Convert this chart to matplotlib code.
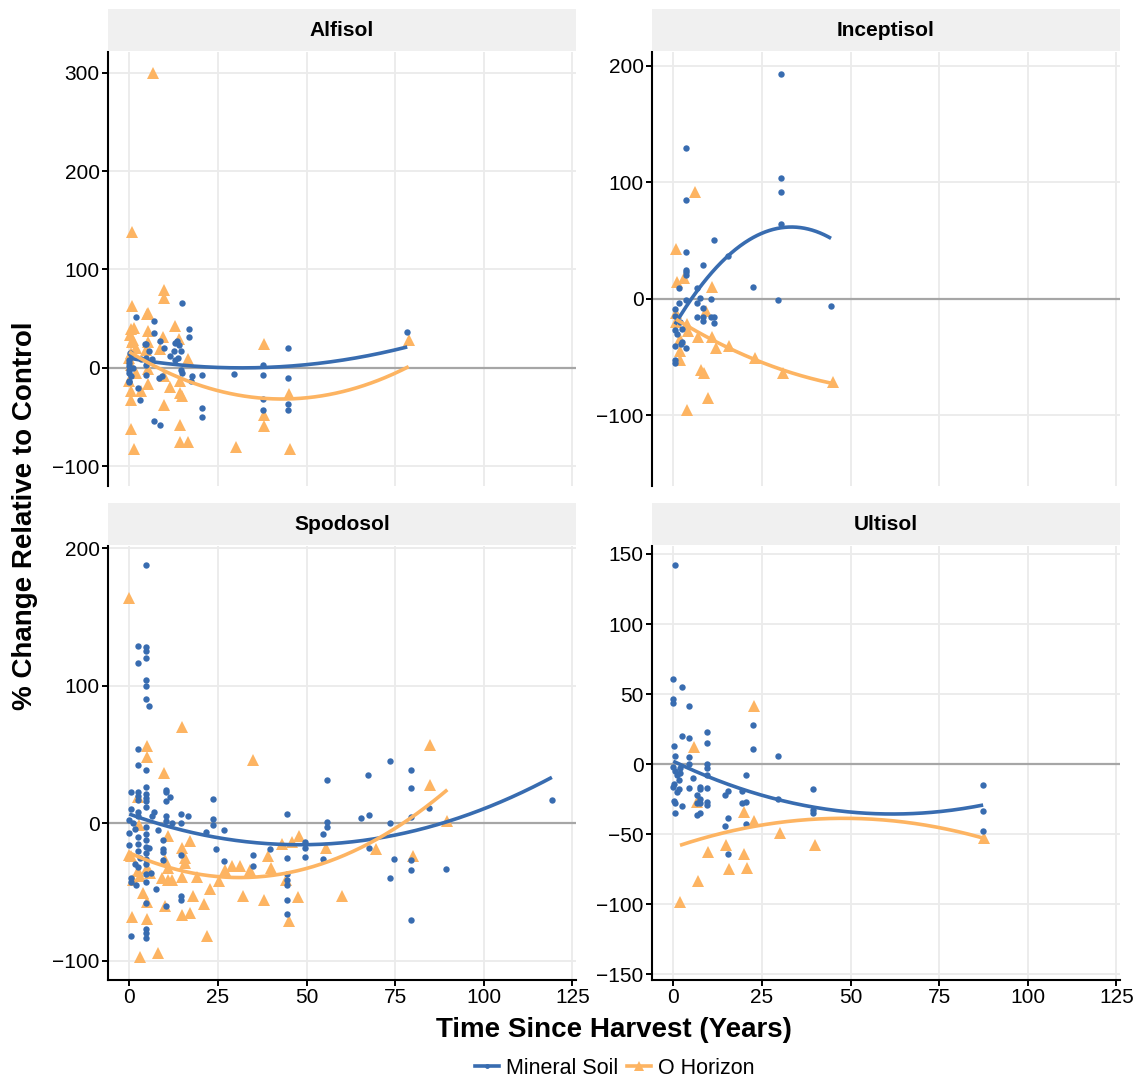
import numpy as np
import matplotlib.pyplot as plt
from matplotlib.lines import Line2D

plt.rcParams['font.family'] = ['Liberation Sans', 'DejaVu Sans']

BLUE = '#386CB0'
ORANGE = '#FDB462'

# (years since harvest, % change)
alfisol_mineral = [
    (0, 8), (0, 5), (0, 2), (0, -2), (0, -5), (0, -13), (0.2, 15), (0.4, 14), (0, -14), (0.5, -8),
    (1, 0), (2, 52), (2.6, -20), (3.1, -33), (3.4, 9), (4.5, 24), (4.6, 10), (4.6, 3), (4.6, -7),
    (4.8, 24), (5.5, 17), (6.5, 9), (6.9, 48), (6.9, 35), (6.9, -54), (8.5, -10), (8.8, 27),
    (8.8, -58), (9.1, -8), (9.7, 20), (11.5, 12), (12.5, 17), (12.9, 25), (13, 8), (13.4, 27),
    (13.7, 10), (13.9, 23), (14.6, 17), (14.6, -2), (14.8, 66), (15, -5), (16.8, 40), (16.8, 31),
    (17.4, -13), (17.8, -8), (20.5, -7.5), (20.5, -41), (20.5, -50), (29.5, -6), (37.8, 3),
    (37.8, -7.5), (37.8, -32), (37.8, -43), (44.7, 20), (44.7, -10), (44.7, -37), (44.7, -43),
    (78.4, 36),
]
alfisol_ohorizon = [
    (6.8, 300), (0.85, 138), (9.9, 79), (9.9, 71), (0.85, 63), (5.3, 56), (4.9, 55), (13, 43),
    (1.3, 41), (5.3, 38), (0.5, 40), (0.3, 33), (9.5, 31), (14.1, 29), (0.8, 26), (5.3, 26),
    (38, 24), (8.8, 19), (0.6, 15), (4.8, 18), (16.5, 9), (0.6, 3), (5.3, -1), (9.7, -8),
    (0, -13), (0.6, -23), (5.3, -16), (14.3, -13), (14.3, -25), (11.5, -19), (0.6, -33),
    (3.3, -23), (9.8, -38), (0.6, -62), (14.3, -58), (14.3, -75), (16.6, -75), (1.3, -82),
    (14.9, -29), (45, -27), (38, -48), (38, -59), (30, -80), (45.2, -82), (78.8, 28), (2, 20),
    (1, 28), (0, 10), (2, -5),
]
inceptisol_mineral = [
    (30.5, 193), (3.5, 129.5), (30.5, 103.6), (30.5, 92), (3.5, 85), (30.5, 64), (11.5, 50),
    (3.5, 40), (15.3, 37), (8.5, 29), (3.5, 25), (3.5, 23), (3.5, 20), (22.5, 10), (6.6, 9),
    (1.6, 9), (7.5, 1), (10.5, 0), (3.6, -1), (29.5, -1), (44.5, -6), (1.6, -4), (6.6, -3.5),
    (0.5, -9), (0.5, -15), (8.5, -8), (6.6, -16), (8.5, -16), (8.5, -19), (10.5, -16),
    (11.5, -16), (11.5, -21), (2.6, -26), (0.5, -27), (2.5, -37), (2.3, -39), (3.5, -42),
    (0.5, -41), (0.5, -53), (0.5, -55), (2, -20), (1, -30),
]
inceptisol_ohorizon = [
    (6, 91.5), (0.8, 42.6), (1, 14), (3.1, 18), (10.8, 10), (0.8, -12), (0.8, -20), (3.8, -22),
    (4.2, -28), (6.9, -33), (9.2, -11), (10.8, -33), (12, -42), (15.8, -41), (1.9, -35),
    (1.9, -45), (1.8, -53), (23, -51), (31, -64), (45, -72), (7.8, -61), (8.8, -64), (9.9, -85),
    (4, -96),
]
spodosol_mineral = [
    (4.6, 187.6), (2.6, 129), (4.6, 128), (4.6, 125), (4.6, 120), (2.6, 116.5), (4.6, 104),
    (4.6, 100), (4.6, 90), (5.6, 85), (2.6, 54), (2.6, 42), (4.6, 38.6), (0.4, 23), (2.6, 22.6),
    (2.6, 19.7), (2.6, 17), (4.6, 26), (4.6, 21), (4.6, 18), (4.6, 16), (4.6, 12), (10.4, 24),
    (10.4, 23), (11.5, 19), (10.4, 16), (23.6, 17.5), (14.6, 7), (16.6, 5), (0.4, 10), (2.6, 8),
    (2.6, 5), (6.3, 5), (10.4, 5), (10.4, 1.5), (23.6, 2.7), (23.6, -1.5), (14.6, 0), (26.7, -5),
    (21.6, -6.5), (0, -7), (0, -15.5), (0, 2), (1, 0), (1.5, -4), (2.6, -10), (2.6, -15),
    (2.6, -20), (4.6, -3), (4.6, -8), (4.6, -12), (4.6, -17), (4.6, -22), (4.6, -26), (5.6, -18),
    (9.6, -12), (9.6, -19), (9.6, -21), (9.6, -26.5), (14.6, -23), (34.8, -23), (24.6, -18.5),
    (39.8, -19), (26.7, -27.7), (34.8, -31), (44.5, 6.5), (44.5, -25), (44.5, -37), (44.5, -41),
    (44.5, -56), (44.5, -66), (14.6, -53), (14.6, -55.6), (4.6, -37), (4.6, -43), (0.4, -40),
    (0.4, -43), (7.5, -47.6), (4.6, -58), (10.4, -60), (0.4, -82), (4.6, -77), (4.6, -80),
    (4.6, -83.5), (4.6, -30), (2.6, -32), (1.5, -30), (55.7, 31.5), (67.4, 35), (73.5, 45),
    (79.5, 38.5), (79.5, 25.5), (84.4, 11), (79.5, 4.7), (65.5, 3.9), (67.6, 5.8), (55.7, 0.7),
    (55.7, -3), (73.5, 0.3), (54.6, -8), (49.5, -14), (49.5, -18), (49.5, -24.5), (54.6, -26),
    (67.6, -18), (74.6, -26), (79.5, -27), (79.5, -34), (89.3, -33.5), (73.5, -39.5),
    (44.6, -45), (79.5, -70.5), (119.2, 16.7), (7, 8), (12, 0), (3, -25), (2, -45), (6, -36),
    (8, -5),
]
spodosol_ohorizon = [
    (0, 163.6), (15, 70), (35, 45.6), (4.9, 56), (4.9, 48), (9.9, 36.7), (2.6, 19), (2.8, -1),
    (11, -9.5), (17, -12.6), (0, -23), (0.6, -24), (14.9, -18), (15.8, -25), (15.8, -29),
    (10.1, -26.5), (4.9, -32.5), (5.9, -36), (2.6, -35), (3, -38.6), (1, -41), (11, -32.5),
    (11, -41), (9.1, -40), (12, -41), (14.9, -39), (19.1, -39), (26.9, -34), (29, -31),
    (31.2, -31), (34, -34), (40, -32.5), (25.3, -42), (39, -24), (43, -15), (46, -14), (48, -9),
    (22.9, -48), (18, -53), (21, -59), (32.2, -52.7), (38, -55.6), (45, -71), (10.1, -60),
    (4, -51), (4.9, -57.5), (4.9, -70), (0.9, -68), (14.9, -66.5), (17, -65), (22, -82),
    (3, -97), (8, -94.4), (47.5, -54), (84.8, 56.7), (84.8, 28), (89.7, 1.7), (55.5, -18),
    (69.7, -19), (79.9, -24), (44.2, -41.5), (59.9, -53),
]
ultisol_mineral = [
    (0.5, 141.8), (0, 61), (2.5, 55.4), (0, 46.5), (0, 44), (4.5, 41.8), (2.5, 20), (4.5, 18.6),
    (9.5, 23), (9.5, 15.3), (22.5, 28), (22.5, 10.7), (29.5, 5.7), (0.2, 13), (0.5, 5.7),
    (4.5, 5), (4.5, 0), (9.5, -0.2), (9.5, -3), (9.5, -8), (0, -2), (0.5, -5), (1, -8),
    (1.5, -11), (0.3, -14), (2, -3), (2, -6), (5.5, -10), (20.5, -8), (4.5, -17), (7.4, -16),
    (7.4, -18), (9.5, -17), (0, -16), (15.5, -19), (14.5, -22), (19.5, -19), (0.2, -26),
    (0.5, -28), (6.6, -22), (7.5, -25), (6.6, -28), (7.5, -28), (2.5, -30), (9.5, -27),
    (9.5, -29), (19.5, -28), (20.5, -27), (0.5, -35), (6.6, -36), (7.5, -35), (29.5, -24.6),
    (39.5, -17.7), (39.5, -33), (39.5, -35), (15.5, -38.4), (14.5, -44), (15.5, -64),
    (20.5, -43), (87.4, -15), (87.4, -33.6), (87.4, -47.6), (1, -20), (1.5, -18),
]
ultisol_ohorizon = [
    (22.9, 41.8), (5.9, 12.4), (6.8, -27), (20, -34), (22.8, -40.6), (30, -49), (40, -58),
    (14.9, -58), (9.9, -63), (20, -64), (15.8, -75), (20.8, -74), (6.9, -83), (1.9, -98.6),
    (87.5, -53),
]

# points
alfisol_mineral_trend = [(5, 7), (20, 1.7), (29.5, 0), (42.7, 0.3), (52, 3.7), (61.5, 9.9),
                         (70.9, 15.6), (78.6, 20.7)]
alfisol_ohorizon_trend = [(5.9, 5), (15.3, -12), (24.8, -24), (34.3, -30), (44.7, -31.7),
                          (52, -28.2), (61.5, -21.8), (70.9, -13), (78.6, 1)]
inceptisol_mineral_trend = [(2.6, -10.6), (9.4, 15), (15.3, 37), (22.6, 53), (33.5, 62),
                            (44.8, 51)]
inceptisol_ohorizon_trend = [(0, -16), (3.8, -24), (10.4, -34), (23, -51), (31, -63),
                             (45, -72.5)]
spodosol_mineral_trend = [(1.1, 5), (10.6, -1), (20, -8), (34.3, -14.3), (48.5, -16),
                          (67.5, -12.4), (89.6, 2), (119.2, 33)]
spodosol_ohorizon_trend = [(0, -21.6), (5.9, -27.7), (15.3, -35), (24.8, -39.3), (34.3, -38.6),
                           (48.5, -32.5), (55.9, -29.3), (69, -13.6), (89.6, 24.5)]
ultisol_mineral_trend = [(0.5, 1), (9.4, -8), (18.9, -17.4), (29.5, -24.6), (39.5, -30.5),
                         (47.2, -34), (60.4, -35.7), (75.4, -34), (87.4, -28.8)]
ultisol_ohorizon_trend = [(1.9, -58), (14.2, -49), (23.6, -43.7), (39.6, -39), (47.2, -39),
                          (60.4, -40.6), (75.4, -44.7), (87.4, -53)]

x_ticks = [0, 25, 50, 75, 100, 125]

W, H = 1137, 1080
fig = plt.figure(figsize=(W / 100, H / 100), dpi=100)


def box(x0, y0, x1, y1):
    return [x0 / W, 1 - y1 / H, (x1 - x0) / W, (y1 - y0) / H]


panels = [
    ('Alfisol', alfisol_mineral, alfisol_ohorizon, alfisol_mineral_trend, alfisol_ohorizon_trend,
     (108, 52, 576, 486), (-120, 321), [-100, 0, 100, 200, 300], False),
    ('Inceptisol', inceptisol_mineral, inceptisol_ohorizon, inceptisol_mineral_trend,
     inceptisol_ohorizon_trend, (652, 52, 1120, 486), (-161, 212), [-100, 0, 100, 200], False),
    ('Spodosol', spodosol_mineral, spodosol_ohorizon, spodosol_mineral_trend,
     spodosol_ohorizon_trend, (108, 546, 576, 980), (-114, 201.5), [-100, 0, 100, 200], True),
    ('Ultisol', ultisol_mineral, ultisol_ohorizon, ultisol_mineral_trend, ultisol_ohorizon_trend,
     (652, 546, 1120, 980), (-154, 155.7), [-150, -100, -50, 0, 50, 100, 150], True),
]

for name, mineral, ohor, m_trend, o_trend, (x0, y0, x1, y1), ylim, yticks, bottom in panels:
    ax = fig.add_axes(box(x0, y0, x1, y1))
    ax.set_xlim(-6, 126)
    ax.set_ylim(*ylim)
    ax.set_xticks(x_ticks)
    ax.set_yticks(yticks)
    ax.grid(True, color='#EBEBEB', lw=1.3)
    ax.set_axisbelow(True)
    for s in ['top', 'right']:
        ax.spines[s].set_visible(False)
    ax.spines['left'].set_linewidth(1.5)
    ax.spines['bottom'].set_linewidth(1.5)
    ax.spines['bottom'].set_visible(bottom)
    ax.tick_params(axis='y', length=4, width=1.4, labelsize=15, pad=2)
    if bottom:
        ax.tick_params(axis='x', length=4, width=1.4, labelsize=15, pad=2)
    else:
        ax.tick_params(axis='x', length=0, labelbottom=False)
    ax.axhline(0, color='#A6A6A6', lw=1.6, zorder=1)

    mx, my = np.array(mineral).T
    ox, oy = np.array(ohor).T
    ax.plot(ox, oy, '^', color=ORANGE, ms=9, mew=0, zorder=2)
    ax.plot(mx, my, 'o', color=BLUE, ms=4.6, mew=0, zorder=3)

    for trend, xs, col in [(m_trend, mx, BLUE), (o_trend, ox, ORANGE)]:
        tx, ty = np.array(trend).T
        coef = np.polyfit(tx, ty, 2)
        xx = np.linspace(xs.min(), xs.max(), 200)
        ax.plot(xx, np.polyval(coef, xx), color=col, lw=2.6, zorder=4,
                solid_capstyle='butt')

    # facet strip
    sax = fig.add_axes(box(x0, y0 - 43, x1, y0 - 1))
    sax.set_facecolor('#F0F0F0')
    sax.set_xticks([])
    sax.set_yticks([])
    for s in sax.spines.values():
        s.set_visible(False)
    sax.text(0.5, 0.5, name, ha='center', va='center', fontsize=15, fontweight='bold',
             transform=sax.transAxes)

fig.text(25 / W, 1 - 516 / H, '% Change Relative to Control', rotation=90, ha='center',
         va='center', fontsize=20, fontweight='bold')
fig.text(614 / W, 1 - 1030 / H, 'Time Since Harvest (Years)', ha='center', va='center',
         fontsize=20, fontweight='bold')

handles = [
    Line2D([], [], color=BLUE, lw=2.6, marker='o', ms=3.5, mew=0),
    Line2D([], [], color=ORANGE, lw=2.6, marker='^', ms=7, mew=0),
]
fig.legend(handles, ['Mineral Soil', 'O Horizon'], loc='center',
           bbox_to_anchor=(615 / W, 1 - 1068 / H), ncol=2, frameon=False, fontsize=15.5,
           handlelength=1.1, handletextpad=0.35, columnspacing=0.4)

fig.savefig('out.png', dpi=100)
